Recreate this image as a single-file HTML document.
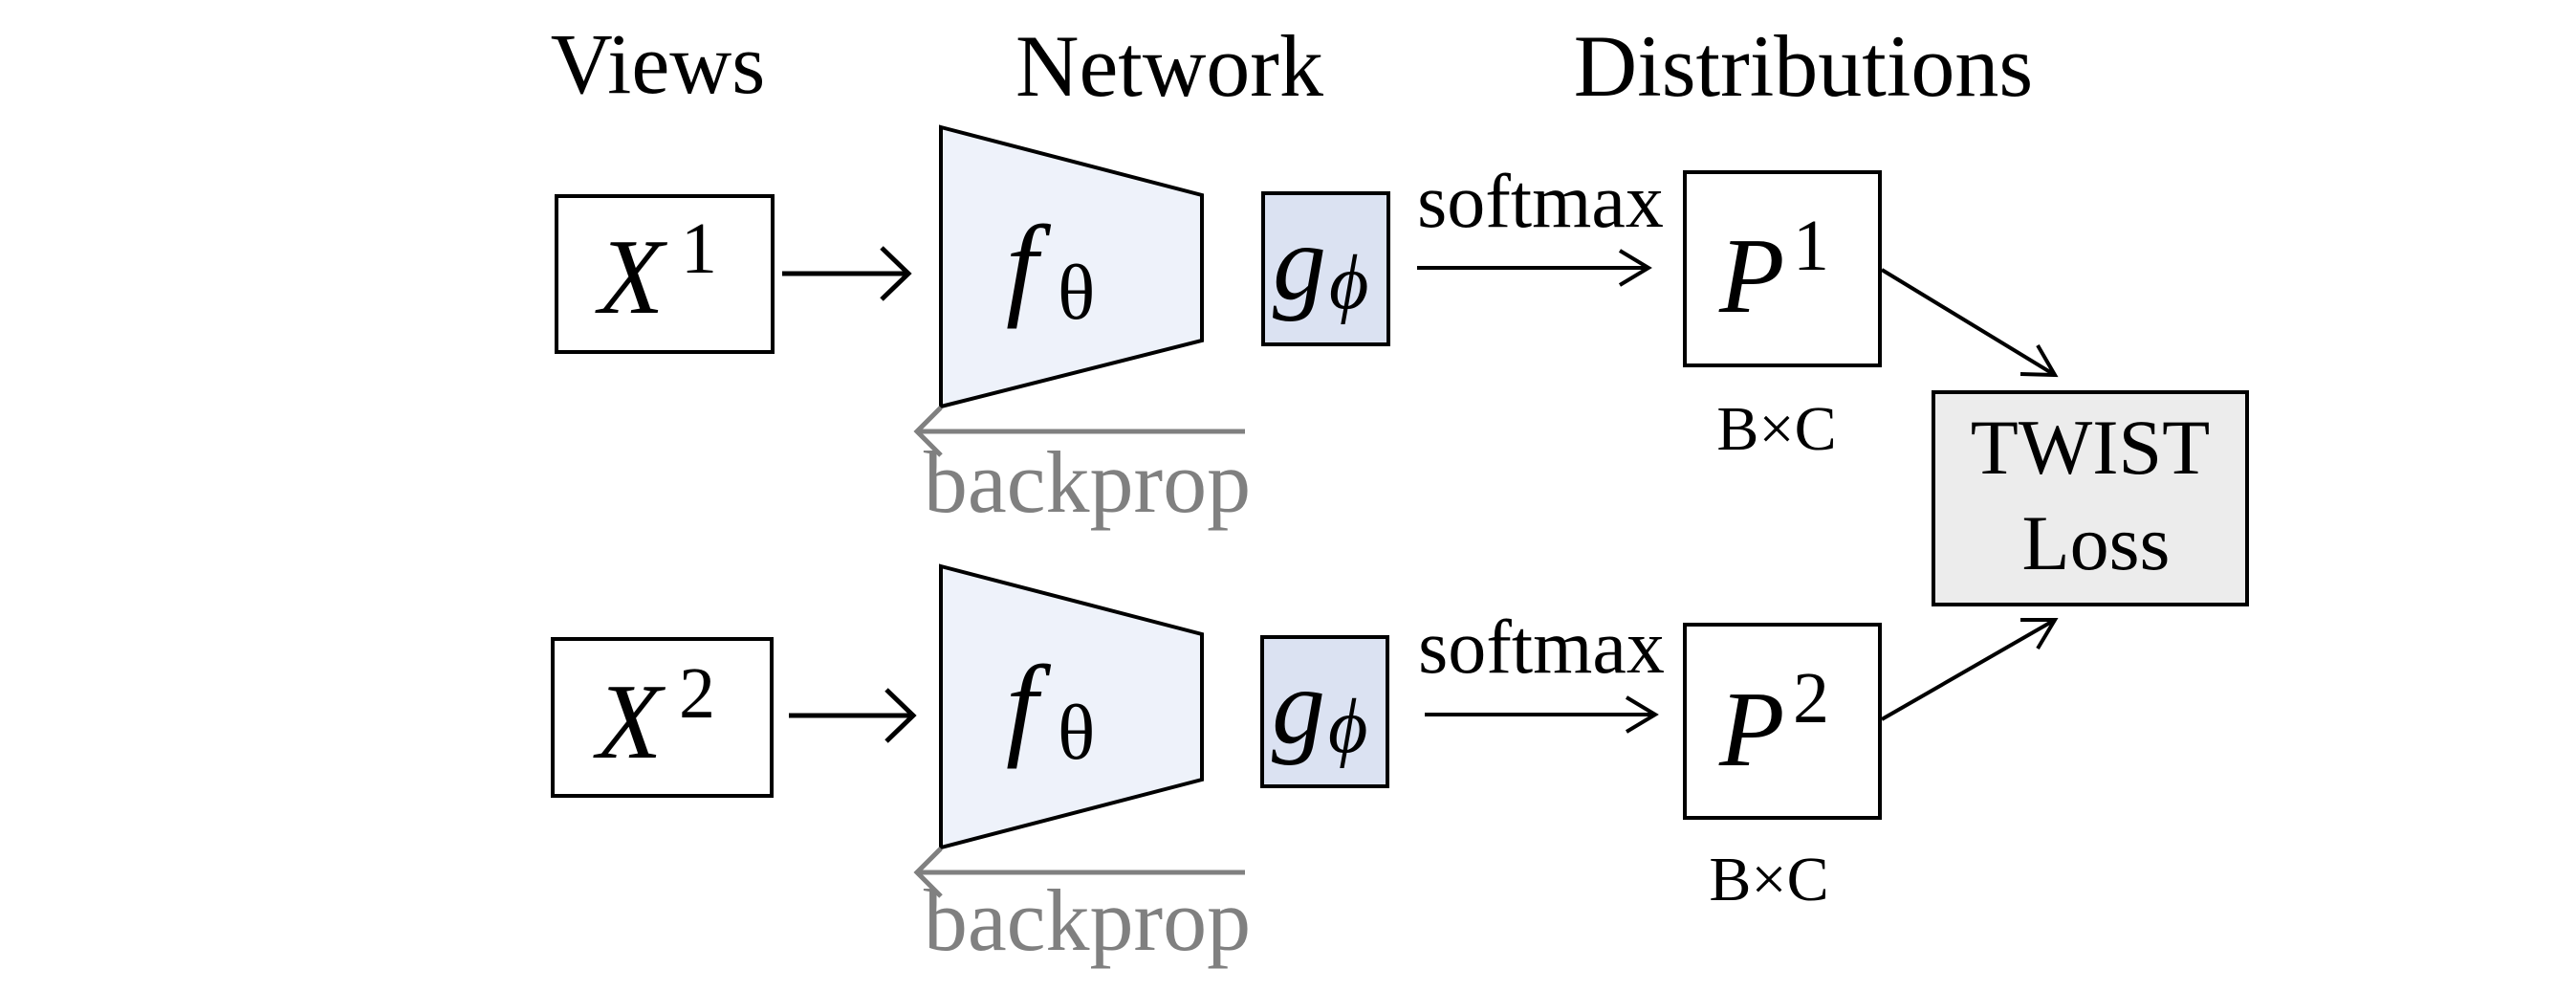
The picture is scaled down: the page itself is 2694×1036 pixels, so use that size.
<!DOCTYPE html>
<html><head><meta charset="utf-8"><style>
html,body{margin:0;padding:0;background:#fff;}
svg{display:block;}
text{font-family:"Liberation Serif","DejaVu Serif",serif;}
</style></head><body>
<svg width="2694" height="1036" viewBox="0 0 2694 1036" xmlns="http://www.w3.org/2000/svg">
<defs>
<marker id="ah" markerWidth="10" markerHeight="10" refX="9" refY="5" orient="auto" markerUnits="userSpaceOnUse" viewBox="0 0 10 10">
</marker>
</defs>
<!-- headers -->
<text x="688" y="97" font-size="90" text-anchor="middle">Views</text>
<text x="1223" y="100" font-size="92" text-anchor="middle">Network</text>
<text x="1886" y="100" font-size="92" text-anchor="middle">Distributions</text>

<!-- Row 1 -->
<rect x="582" y="205" width="226" height="163" fill="#fff" stroke="#000" stroke-width="4"/>
<text x="626" y="327" font-size="112" font-style="italic">X</text>
<text x="712" y="285" font-size="76">1</text>
<line x1="818" y1="286" x2="950" y2="286" stroke="#000" stroke-width="5"/>
<polyline points="922,259 950,286 922,313" fill="none" stroke="#000" stroke-width="5"/>
<polygon points="984,133 1257,204 1257,356 984,425" fill="#eef2fa" stroke="#000" stroke-width="4"/>
<text x="1052" y="318" font-size="120" font-style="italic">f</text>
<text x="1106" y="333" font-size="82">θ</text>
<rect x="1321" y="202" width="131" height="158" fill="#dbe2f2" stroke="#000" stroke-width="4"/>
<text x="1331" y="312" font-size="112" font-style="italic">g</text>
<text x="1390" y="322" font-size="80" font-style="italic">ϕ</text>
<line x1="959" y1="451" x2="1302" y2="451" stroke="#808080" stroke-width="5"/>
<polyline points="984,426 959,451 984,476" fill="none" stroke="#808080" stroke-width="5"/>
<text x="1137" y="535" font-size="92" fill="#808080" text-anchor="middle">backprop</text>

<text x="1611" y="237" font-size="80" text-anchor="middle">softmax</text>
<line x1="1482" y1="280" x2="1724" y2="280" stroke="#000" stroke-width="4"/>
<polyline points="1694,262 1724,280 1694,298" fill="none" stroke="#000" stroke-width="4"/>
<rect x="1762" y="180" width="204" height="202" fill="#fff" stroke="#000" stroke-width="4"/>
<text x="1798" y="326" font-size="112" font-style="italic">P</text>
<text x="1875" y="282" font-size="76">1</text>
<text x="1858" y="470" font-size="66" text-anchor="middle">B×C</text>
<line x1="1968" y1="282" x2="2149" y2="392" stroke="#000" stroke-width="4"/>
<polyline points="2113,391 2149,392 2131,361" fill="none" stroke="#000" stroke-width="4"/>

<rect x="2022" y="410" width="328" height="222" fill="#ececec" stroke="#000" stroke-width="4"/>
<text x="2186" y="495" font-size="82" text-anchor="middle">TWIST</text>
<text x="2192" y="595" font-size="82" text-anchor="middle">Loss</text>

<!-- Row 2 -->
<rect x="578" y="668" width="229" height="164" fill="#fff" stroke="#000" stroke-width="4"/>
<text x="624" y="792" font-size="112" font-style="italic">X</text>
<text x="710" y="750" font-size="76">2</text>
<line x1="825" y1="748" x2="955" y2="748" stroke="#000" stroke-width="5"/>
<polyline points="927,721 955,748 927,775" fill="none" stroke="#000" stroke-width="5"/>
<polygon points="984,592 1257,663 1257,815 984,886" fill="#eef2fa" stroke="#000" stroke-width="4"/>
<text x="1052" y="778" font-size="120" font-style="italic">f</text>
<text x="1106" y="793" font-size="82">θ</text>
<rect x="1320" y="666" width="131" height="156" fill="#dbe2f2" stroke="#000" stroke-width="4"/>
<text x="1330" y="776" font-size="112" font-style="italic">g</text>
<text x="1389" y="786" font-size="80" font-style="italic">ϕ</text>
<line x1="959" y1="912" x2="1302" y2="912" stroke="#808080" stroke-width="5"/>
<polyline points="984,887 959,912 984,937" fill="none" stroke="#808080" stroke-width="5"/>
<text x="1137" y="993" font-size="92" fill="#808080" text-anchor="middle">backprop</text>

<text x="1612" y="703" font-size="80" text-anchor="middle">softmax</text>
<line x1="1490" y1="747" x2="1731" y2="747" stroke="#000" stroke-width="4"/>
<polyline points="1701,729 1731,747 1701,765" fill="none" stroke="#000" stroke-width="4"/>
<rect x="1762" y="653" width="204" height="202" fill="#fff" stroke="#000" stroke-width="4"/>
<text x="1798" y="800" font-size="112" font-style="italic">P</text>
<text x="1875" y="755" font-size="76">2</text>
<text x="1850" y="941" font-size="66" text-anchor="middle">B×C</text>
<line x1="1968" y1="752" x2="2149" y2="648" stroke="#000" stroke-width="4"/>
<polyline points="2131,678 2149,648 2113,648" fill="none" stroke="#000" stroke-width="4"/>
</svg>
</body></html>
